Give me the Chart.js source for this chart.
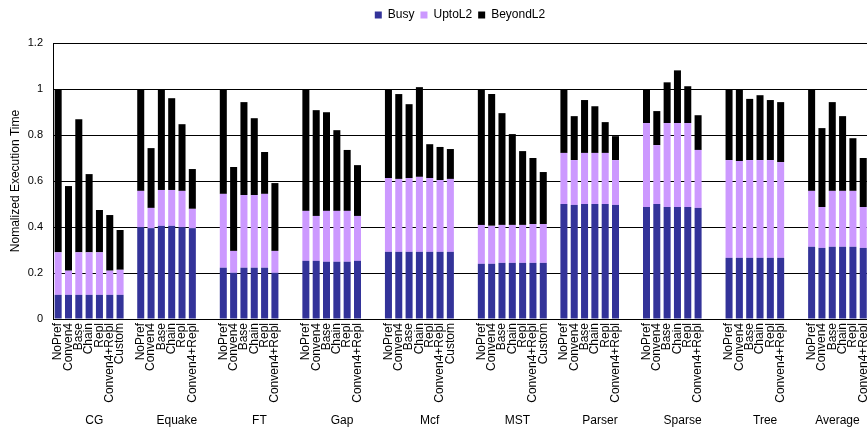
<!DOCTYPE html>
<html>
<head>
<meta charset="utf-8">
<title>Normalized Execution Time</title>
<script src="https://cdn.jsdelivr.net/npm/chart.js@4/dist/chart.umd.min.js"></script>
<style>
  html, body { margin: 0; padding: 0; overflow: hidden; background: #fff; }
  canvas { display: block; }
</style>
</head>
<body>
<canvas id="chart" width="920" height="429"></canvas>
<script>
// Benchmarks, each drawn as a cluster of prefetching schemes
const benchmarks = ['CG', 'Equake', 'FT', 'Gap', 'Mcf', 'MST', 'Parser', 'Sparse', 'Tree', 'Average'];
const schemes7 = ['NoPref', 'Conven4', 'Base', 'Chain', 'Repl', 'Conven4+Repl', 'Custom'];
const schemes6 = ['NoPref', 'Conven4', 'Base', 'Chain', 'Repl', 'Conven4+Repl'];
const groupSchemes = [schemes7, schemes6, schemes6, schemes6, schemes7, schemes7, schemes6, schemes6, schemes6, schemes6];
// empty category slots after each cluster, and at the end of the axis
const trailingBlanks = [1, 2, 2, 2, 2, 1, 2, 2, 2, 0];
const axisTail = 5;

const seriesNames = ['Busy', 'UptoL2', 'BeyondL2'];
const seriesColors = ['#333399', '#CC99FF', '#000000'];

// Time components, normalized to NoPref (one inner list per benchmark)
const busy = [
  [0.105, 0.105, 0.105, 0.105, 0.105, 0.105, 0.105],
  [0.399, 0.395, 0.405, 0.405, 0.399, 0.395],
  [0.223, 0.201, 0.223, 0.223, 0.223, 0.201],
  [0.253, 0.253, 0.249, 0.249, 0.249, 0.253],
  [0.292, 0.292, 0.292, 0.292, 0.292, 0.292, 0.292],
  [0.240, 0.240, 0.244, 0.244, 0.244, 0.244, 0.244],
  [0.500, 0.496, 0.500, 0.500, 0.500, 0.496],
  [0.487, 0.500, 0.487, 0.487, 0.487, 0.483],
  [0.266, 0.266, 0.266, 0.266, 0.266, 0.266],
  [0.314, 0.309, 0.314, 0.314, 0.314, 0.309]
];
const uptoL2 = [
  [0.185, 0.105, 0.185, 0.185, 0.185, 0.105, 0.109],
  [0.158, 0.088, 0.156, 0.156, 0.158, 0.084],
  [0.321, 0.095, 0.316, 0.316, 0.321, 0.095],
  [0.217, 0.195, 0.221, 0.221, 0.221, 0.195],
  [0.321, 0.317, 0.321, 0.326, 0.321, 0.312, 0.317],
  [0.169, 0.165, 0.165, 0.165, 0.165, 0.169, 0.169],
  [0.222, 0.195, 0.222, 0.222, 0.222, 0.195],
  [0.365, 0.256, 0.365, 0.365, 0.365, 0.252],
  [0.425, 0.421, 0.425, 0.425, 0.425, 0.416],
  [0.243, 0.178, 0.243, 0.243, 0.243, 0.178]
];
const beyondL2 = [
  [0.710, 0.368, 0.579, 0.340, 0.184, 0.242, 0.173],
  [0.443, 0.260, 0.439, 0.399, 0.290, 0.173],
  [0.456, 0.365, 0.404, 0.334, 0.182, 0.295],
  [0.530, 0.460, 0.429, 0.351, 0.265, 0.221],
  [0.387, 0.369, 0.321, 0.390, 0.147, 0.144, 0.130],
  [0.591, 0.573, 0.486, 0.395, 0.321, 0.287, 0.226],
  [0.278, 0.191, 0.230, 0.203, 0.134, 0.104],
  [0.148, 0.148, 0.177, 0.229, 0.160, 0.151],
  [0.309, 0.309, 0.266, 0.282, 0.261, 0.261],
  [0.443, 0.343, 0.386, 0.325, 0.229, 0.213]
];

const yTicks = [0, 0.2, 0.4, 0.6, 0.8, 1, 1.2];

// Flatten the clusters into one category axis with blank spacer slots
const labels = [];
const flat = [[], [], []];
const components = [busy, uptoL2, beyondL2];
benchmarks.forEach((name, g) => {
  groupSchemes[g].forEach((s, i) => {
    labels.push(s);
    components.forEach((c, k) => flat[k].push(c[g][i]));
  });
  for (let b = 0; b < trailingBlanks[g]; b++) {
    labels.push('');
    flat.forEach(arr => arr.push(null));
  }
});
for (let b = 0; b < axisTail; b++) {
  labels.push('');
  flat.forEach(arr => arr.push(null));
}

const FONT = '"Liberation Sans", Arial, sans-serif';

// Benchmark names centred under each cluster
const groupTitles = {
  id: 'groupTitles',
  afterDraw(chart) {
    const x = chart.scales.x;
    const ctx = chart.ctx;
    ctx.save();
    ctx.font = '12px ' + FONT;
    ctx.fillStyle = '#000';
    ctx.textAlign = 'center';
    ctx.textBaseline = 'middle';
    let idx = 0;
    benchmarks.forEach((name, g) => {
      const n = groupSchemes[g].length + trailingBlanks[g];
      const a = x.getPixelForValue(idx);
      const b = x.getPixelForValue(idx + n - 1);
      ctx.fillText(name, (a + b) / 2, x.bottom - 8.5);
      idx += n;
    });
    ctx.restore();
  }
};

// Extra room between the legend and the plot
const legendSpace = {
  id: 'legendSpace',
  beforeInit(chart) {
    const fit = chart.legend.fit;
    chart.legend.fit = function () {
      fit.call(this);
      this.height = 40;
    };
  }
};

new Chart(document.getElementById('chart'), {
  type: 'bar',
  data: {
    labels: labels,
    datasets: seriesNames.map((name, k) => ({
      label: name,
      data: flat[k],
      backgroundColor: seriesColors[k],
      borderWidth: 0,
      barPercentage: 0.68,
      categoryPercentage: 1.0
    }))
  },
  options: {
    responsive: false,
    animation: false,
    layout: { padding: { top: 3, left: 0, right: 0, bottom: 0 } },
    plugins: {
      tooltip: { enabled: false },
      legend: {
        position: 'top',
        labels: {
          boxWidth: 7,
          boxHeight: 7,
          padding: 6,
          color: '#000',
          font: { family: FONT, size: 12 }
        }
      }
    },
    scales: {
      x: {
        stacked: true,
        grid: { display: false, drawTicks: false },
        border: { display: true, color: '#000', width: 1 },
        ticks: {
          autoSkip: false,
          minRotation: 90,
          maxRotation: 90,
          padding: 4,
          color: '#000',
          font: { family: FONT, size: 12 }
        },
        afterFit(scale) {
          scale.height = 110;
          scale.paddingLeft = 0;
          scale.paddingRight = 0;
        }
      },
      y: {
        stacked: true,
        min: 0,
        max: 1.2,
        afterBuildTicks(scale) { scale.ticks = yTicks.map(v => ({ value: v })); },
        grid: { color: '#000', lineWidth: 1, drawTicks: false },
        border: { display: true, color: '#000', width: 1 },
        ticks: {
          padding: 10,
          color: '#000',
          font: { family: FONT, size: 11 },
          callback: v => String(+v.toFixed(1))
        },
        title: {
          display: true,
          text: 'Nomalized Execution Time',
          color: '#000',
          padding: { top: 8, bottom: 0 },
          font: { family: FONT, size: 12 }
        },
        afterFit(scale) { scale.width = 53; }
      }
    }
  },
  plugins: [legendSpace, groupTitles]
});
</script>
</body>
</html>
